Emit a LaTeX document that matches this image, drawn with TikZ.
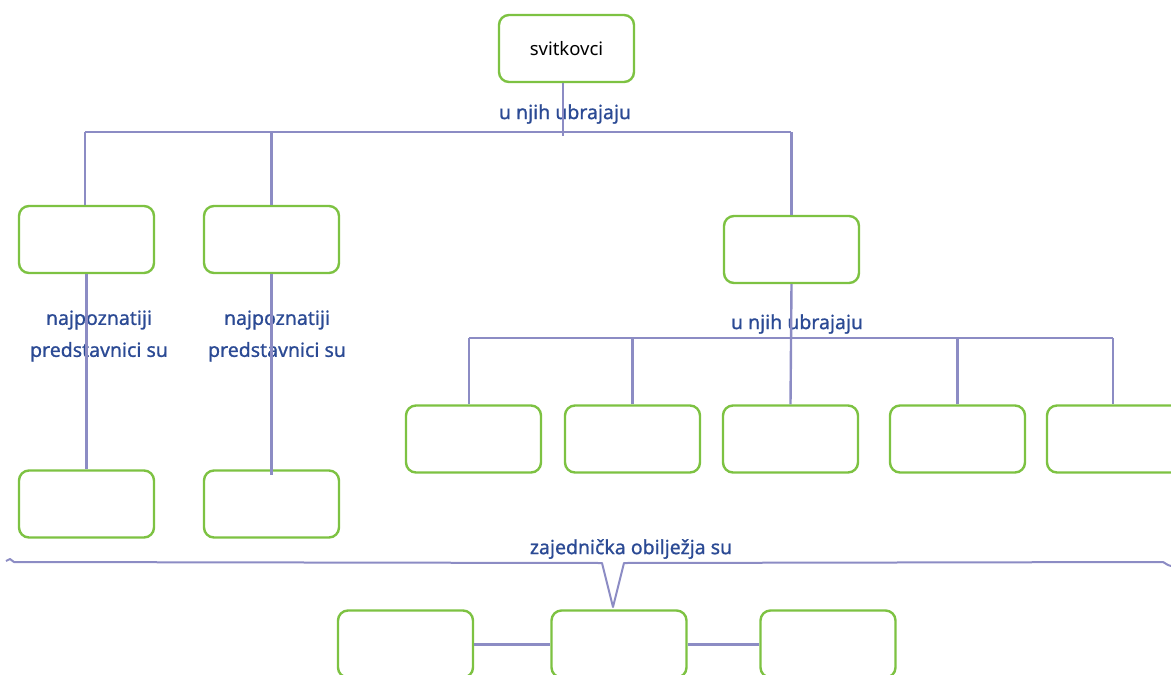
\documentclass[tikz,border=0pt]{standalone}
\usepackage{fontspec}
\newfontfamily\labfont[FakeBold=0.9]{Noto Sans}
\newfontfamily\boxfont{Noto Sans}
\definecolor{boxgreen}{HTML}{7DC242}
\definecolor{linec}{HTML}{8C8CC4}
\definecolor{labblue}{HTML}{2B4A94}
\begin{document}
\begin{tikzpicture}[x=1pt,y=-1pt,
  box/.style={draw=boxgreen, line width=2.4pt, rounded corners=10pt, minimum width=135pt, minimum height=67pt, inner sep=0pt, fill=white},
  conn/.style={draw=linec, line width=2.4pt},
  lab/.style={text=labblue, font=\labfont\fontsize{19.5}{32}\selectfont, align=center, inner sep=0pt}]
\useasboundingbox (0,0) rectangle (1171,675);
\clip (0,0) rectangle (1171,675);
% boxes
\node[box, font=\boxfont\fontsize{18.5}{22}\selectfont] (top) at (566.5,48.5) {svitkovci};
\node[box] (a1) at (86.5,239.5) {};
\node[box] (a2) at (271.5,239.5) {};
\node[box] (r) at (791.5,249.5) {};
\node[box] (b1) at (86.5,504) {};
\node[box] (b2) at (271.5,504) {};
\node[box] (c1) at (473.5,439) {};
\node[box] (c2) at (632.5,439) {};
\node[box] (c3) at (790.5,439) {};
\node[box] (c4) at (957.5,439) {};
\node[box] (c5) at (1114.5,439) {};
\node[box] (d1) at (405.5,644) {};
\node[box] (d2) at (619,644) {};
\node[box] (d3) at (828,644) {};
% labels
\node[lab] (l1) at (565,114) {u njih ubrajaju};
\node[lab] (l2) at (797,324) {u njih ubrajaju};
\node[lab] (l3) at (99,336) {najpoznatiji\\predstavnici su};
\node[lab] (l4) at (277,336) {najpoznatiji\\predstavnici su};
\node[lab] (l5) at (631,549) {zajednička obilježja su};
% connectors
\coordinate (bl) at (85,132);
\coordinate (br) at (791,132);
\coordinate (bm) at (563,136);
\coordinate (rl) at (469,338);
\coordinate (rr) at (1113,338);
\draw[conn] (bl) -- (br);
\draw[conn] (top.south -| bm) -- (bm);
\draw[conn] (bl) -- (bl |- a1.north);
\draw[conn] (a2.north) -- (a2.north |- bl);
\draw[conn] (r.north) -- (r.north |- br);
\draw[conn] (rl) -- (rr);
\draw[conn] (r.south) -- (c3.north);
\draw[conn] (rl) -- (rl |- c1.north);
\draw[conn] (c2.north) -- (c2.north |- rl);
\draw[conn] (c4.north) -- (c4.north |- rl);
\draw[conn] (rr) -- (rr |- c5.north);
\draw[conn] (a1.south) -- (b1.north);
\draw[conn] (a2.south) -- (a2.south |- 0,475);
\draw[conn, line width=3pt] (d1.east) -- (d2.west);
\draw[conn, line width=3pt] (d2.east) -- (d3.west);
% brace
\coordinate (tip) at (613,607);
\draw[draw=linec, line width=2pt, line join=round]
  (6,561) -- (10,559) -- (14,562) -- (602,563) -- (tip) -- (624,563) -- (1163,562) -- (1168,565) -- (1171,566);
\end{tikzpicture}
\end{document}
